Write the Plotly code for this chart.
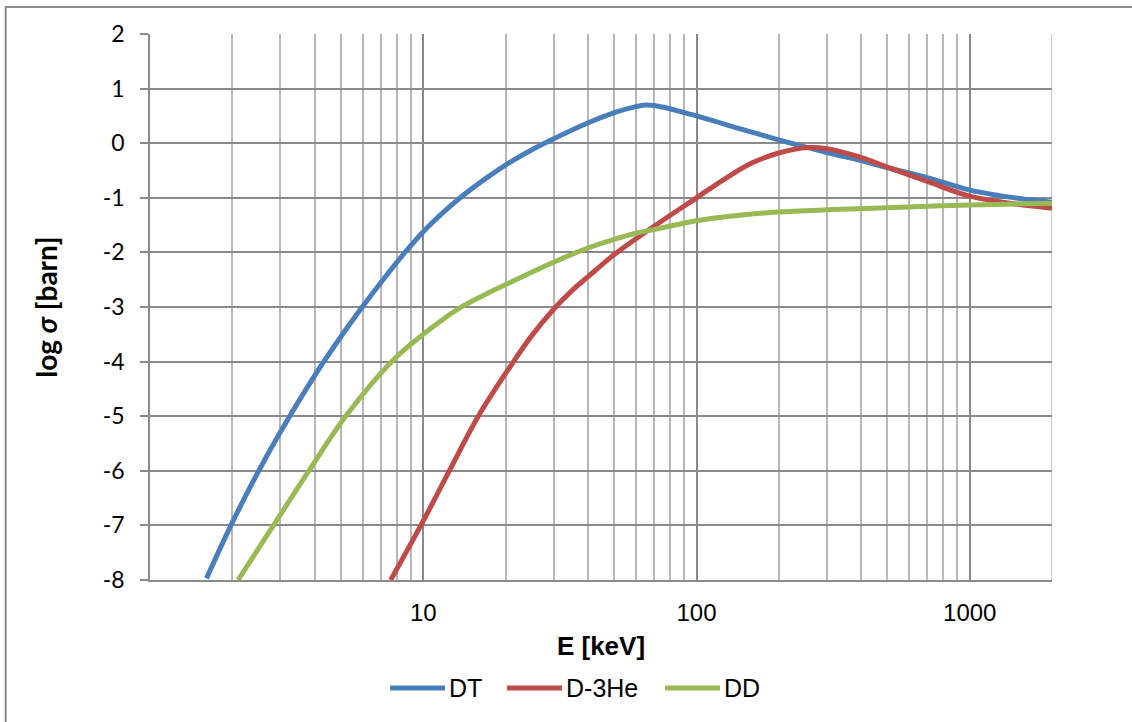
import plotly.graph_objects as go

# Fusion cross sections, log10(sigma / barn) versus deuteron energy E [keV]
dt_energy = [1.61, 2.0, 2.5, 3.0, 4.0, 5.0, 6.0, 7.0, 8.57, 10, 12, 13.8, 17, 20, 25,
             30, 40, 50, 60, 65, 70, 80, 90, 100, 150, 200, 300, 400, 500, 700, 1000,
             1500, 2000]
dt_logsigma = [-7.97, -6.95, -6.0, -5.29, -4.26, -3.54, -2.99, -2.55, -2.0, -1.62, -1.24,
               -0.98, -0.64, -0.40, -0.12, 0.08, 0.37, 0.56, 0.67, 0.70, 0.69, 0.63, 0.56,
               0.50, 0.24, 0.06, -0.17, -0.32, -0.45, -0.63, -0.86, -1.01, -1.08]

dhe3_energy = [7.6, 9.8, 12.4, 15.9, 21.4, 25, 29.9, 35, 40, 50, 70, 100, 130, 160, 200,
               256, 300, 400, 500, 700, 1000, 1500, 2000]
dhe3_logsigma = [-8, -7, -6.02, -5, -4, -3.52, -3.05, -2.70, -2.45, -2.04, -1.52, -1.0,
                 -0.62, -0.36, -0.18, -0.08, -0.10, -0.26, -0.44, -0.70, -0.97, -1.12,
                 -1.19]

dd_energy = [2.10, 2.83, 3.85, 5.24, 7.77, 10, 12, 14, 17, 20, 30, 40, 50, 60, 70, 100,
             150, 200, 300, 500, 1000, 2000]
dd_logsigma = [-8, -7, -5.97, -4.98, -3.97, -3.5, -3.2, -2.98, -2.76, -2.59, -2.18, -1.92,
               -1.76, -1.65, -1.58, -1.42, -1.31, -1.26, -1.22, -1.18, -1.13, -1.10]

series_names = ["DT", "D-3He", "DD"]
series_colors = ["#4A7EBB", "#BE4B48", "#98B954"]

x_major = [10, 100, 1000]
x_major_labels = ["10", "100", "1000"]
x_minor = [m * d for d in (1, 10, 100) for m in range(2, 10)]
y_ticks = list(range(-8, 3))
y_tick_labels = [str(v) for v in y_ticks]

major_grid = "#8A8A8A"
minor_grid = "#B8B8B8"
excel_sans = "Liberation Sans, Arial"
excel_body = "Lato, Carlito, Calibri"

fig = go.Figure()
for name, xs, ys, col in zip(series_names,
                             [dt_energy, dhe3_energy, dd_energy],
                             [dt_logsigma, dhe3_logsigma, dd_logsigma],
                             series_colors):
    fig.add_trace(go.Scatter(x=xs, y=ys, name=name, mode="lines", showlegend=False,
                             line=dict(color=col, width=5, shape="spline", smoothing=1.0)))

# Legend row below the axis title: long key lines followed by the series name
legend_y = -0.198
key_starts = [0.2661, 0.3958, 0.5710]
key_len = 0.061
shapes = []
annotations = []
for name, col, x0 in zip(series_names, series_colors, key_starts):
    shapes.append(dict(type="line", xref="paper", yref="paper",
                       x0=x0, x1=x0 + key_len, y0=legend_y, y1=legend_y,
                       line=dict(color=col, width=5)))
    annotations.append(dict(text=name, xref="paper", yref="paper",
                            x=x0 + key_len + 0.002, y=legend_y,
                            xanchor="left", yanchor="middle", showarrow=False,
                            font=dict(family=excel_sans, size=25, color="#000")))

# outer chart frame
shapes.append(dict(type="rect", xref="paper", yref="paper",
                   x0=-0.160, x1=1.3, y0=-0.5, y1=1.0495,
                   line=dict(color="#8C8C8C", width=2), fillcolor="rgba(0,0,0,0)",
                   layer="below"))
# minor gridline closing the plot on the right at E = 2000
shapes.append(dict(type="line", xref="x", yref="paper", x0=2000, x1=2000, y0=0, y1=1,
                   line=dict(color=minor_grid, width=1.5), layer="below"))

fig.update_layout(
    width=1132, height=722,
    margin=dict(l=150, r=80, t=34, b=142, autoexpand=False),
    paper_bgcolor="white", plot_bgcolor="white",
    showlegend=False,
    xaxis=dict(
        type="log", range=[0, 3.30103],
        tickmode="array", tickvals=x_major, ticktext=x_major_labels,
        ticks="", showgrid=True, gridcolor=major_grid, gridwidth=1.5,
        minor=dict(tickmode="array", tickvals=x_minor, showgrid=True,
                   gridcolor=minor_grid, gridwidth=1.5, ticks=""),
        showline=True, linecolor=major_grid, linewidth=1.5,
        zeroline=False,
        tickfont=dict(family=excel_sans, size=24, color="#000"),
        ticklabelstandoff=10,
        title=dict(text="<b>E [keV]</b>", standoff=12,
                   font=dict(family=excel_sans, size=26, color="#000")),
    ),
    yaxis=dict(
        range=[-8, 2], tickmode="array", tickvals=y_ticks, ticktext=y_tick_labels,
        ticks="outside", ticklen=8, tickcolor=major_grid, tickwidth=1.5,
        showgrid=True, gridcolor=major_grid, gridwidth=1.5,
        showline=True, linecolor=major_grid, linewidth=1.5,
        zeroline=False,
        tickfont=dict(family=excel_body, size=23, color="#000"),
        ticklabelstandoff=11,
        title=dict(text="<b>log <i>σ</i> [barn]</b>", standoff=37,
                   font=dict(family=excel_body, size=28, color="#000")),
    ),
    shapes=shapes,
    annotations=annotations,
)

fig.write_html("out.html")
